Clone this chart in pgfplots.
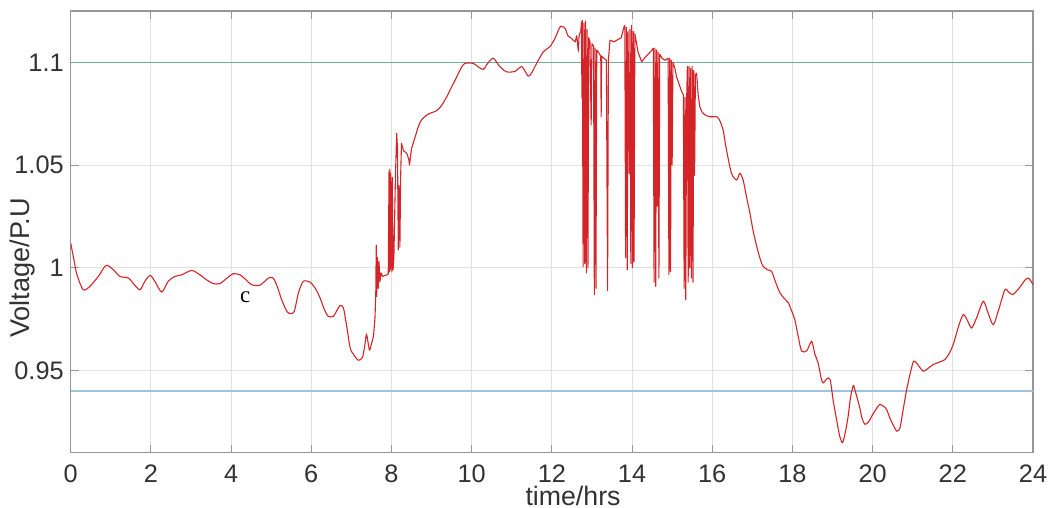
\documentclass[border=0pt]{standalone}
\usepackage{fontspec}
\setmainfont{Liberation Sans}
\newfontfamily\seriffont{Liberation Serif}
\usepackage{pgfplots}
\usepackage{pgfplotstable}
\pgfplotsset{compat=1.18}
\definecolor{voltred}{RGB}{212,36,40}
\definecolor{upperlim}{RGB}{112,172,166}
\definecolor{lowerlim}{RGB}{158,196,220}
\definecolor{gridgray}{RGB}{226,226,226}
\definecolor{framegray}{RGB}{150,150,150}
\definecolor{labelgray}{RGB}{50,50,50}

% night-time section, 0-7.6 h
\pgfplotstableread{
t v
0 1.012
0.08 1.004
0.15 0.997
0.31 0.9893
0.48 0.991
0.69 0.9958
0.88 1.0012
1.06 0.9991
1.23 0.9958
1.44 0.995
1.6 0.9915
1.73 0.9893
1.85 0.9934
1.98 0.9963
2.10 0.9934
2.27 0.9882
2.43 0.9934
2.60 0.9958
2.77 0.9966
3.02 0.9987
3.22 0.9966
3.40 0.994
3.56 0.9923
3.72 0.9923
3.90 0.995
4.05 0.9971
4.22 0.9966
4.38 0.994
4.51 0.9918
4.72 0.9915
4.93 0.995
5.05 0.995
5.15 0.991
5.26 0.9845
5.40 0.9785
5.50 0.9777
5.58 0.979
5.68 0.9878
5.80 0.9934
5.97 0.993
6.10 0.990
6.22 0.9853
6.32 0.980
6.42 0.9764
6.55 0.9764
6.66 0.980
6.72 0.9816
6.80 0.9806
6.88 0.972
6.97 0.961
7.05 0.958
7.17 0.955
7.28 0.9565
7.34 0.963
7.38 0.9675
7.45 0.960
7.50 0.963
7.55 0.9667
7.59 0.976
}\nightA

% morning switching, 7.6-8.5 h
\pgfplotstableread{
t v
7.59 0.976
7.61 0.989
7.62 1.011
7.63 0.986
7.65 1.005
7.67 0.990
7.69 1.003
7.71 0.993
7.74 0.9975
7.78 0.9958
7.83 0.9962
7.88 0.9965
7.92 0.997
7.94 1.047
7.95 0.998
7.96 1.048
7.97 0.999
7.98 1.046
7.99 1.000
8.00 1.040
8.01 0.998
8.02 1.044
8.04 0.999
8.06 1.005
8.10 1.045
8.13 1.0655
8.15 1.058
8.17 1.0088
8.19 1.040
8.21 1.010
8.23 1.045
8.25 1.0606
8.30 1.057
8.38 1.0558
8.43 1.053
8.45 1.050
8.50 1.058
}\morningB

% daytime rise, 8.5-12.72 h
\pgfplotstableread{
t v
8.50 1.058
8.58 1.063
8.67 1.0687
8.75 1.072
8.88 1.0744
9.00 1.0755
9.13 1.0765
9.25 1.079
9.38 1.0833
9.50 1.088
9.63 1.093
9.73 1.097
9.83 1.0995
10.04 1.0995
10.15 1.098
10.29 1.0966
10.40 1.0995
10.54 1.102
10.70 1.098
10.87 1.0954
11.08 1.0956
11.25 1.0979
11.41 1.0933
11.50 1.095
11.62 1.0995
11.79 1.1052
11.95 1.1076
12.08 1.1117
12.15 1.115
12.22 1.1176
12.33 1.1165
12.40 1.113
12.49 1.1117
12.58 1.110
12.62 1.1128
12.66 1.106
12.68 1.113
12.72 1.1149
}\dayC

% midday switching, 12.72-15.74 h
\pgfplotstableread{
t v
12.72 1.1149
12.74 1.1197
12.75 1.0826
12.76 1.1205
12.78 1.0005
12.80 1.119
12.82 1.002
12.84 1.120
12.86 0.9975
12.88 1.116
12.90 1.000
12.92 1.112
12.95 1.110
12.98 1.0695
13.00 1.109
13.04 1.108
13.06 0.987
13.08 1.107
13.10 0.990
13.12 1.106
13.16 1.105
13.22 1.103
13.23 1.0736
13.24 1.103
13.30 1.102
13.36 1.101
13.39 0.989
13.41 1.101
13.45 1.1108
13.55 1.110
13.62 1.1108
13.73 1.112
13.80 1.1173
13.82 1.118
13.84 1.005
13.86 1.117
13.88 0.999
13.90 1.115
13.93 1.046
13.95 1.116
13.97 1.002
13.99 1.118
14.01 1.000
14.03 1.115
14.05 1.003
14.07 1.114
14.15 1.105
14.24 1.1003
14.31 1.102
14.45 1.105
14.53 1.1068
14.55 0.993
14.57 1.107
14.59 0.991
14.61 1.106
14.63 1.030
14.65 1.105
14.67 0.995
14.69 1.104
14.75 1.102
14.82 1.101
14.90 1.102
14.92 0.9967
14.94 1.102
14.96 0.998
14.98 1.101
15.00 1.050
15.02 1.100
15.07 1.097
15.11 1.093
15.18 1.089
15.24 1.0857
15.28 1.084
15.30 0.990
15.32 1.083
15.34 0.9845
15.36 1.080
15.38 1.098
15.40 0.993
15.42 1.098
15.44 1.000
15.46 1.097
15.48 0.995
15.50 1.098
15.52 0.993
15.54 1.096
15.56 1.045
15.58 1.094
15.61 1.0947
15.65 1.084
15.69 1.0784
15.74 1.076
}\middayD

% evening and night, 15.74-24 h
\pgfplotstableread{
t v
15.74 1.076
15.82 1.0744
15.95 1.0735
16.07 1.0736
16.11 1.0736
16.18 1.072
16.27 1.0671
16.35 1.058
16.48 1.046
16.61 1.0428
16.69 1.046
16.77 1.0428
16.85 1.035
16.94 1.0266
17.02 1.018
17.11 1.0104
17.20 1.004
17.27 1.0007
17.38 0.999
17.48 0.9983
17.58 0.993
17.69 0.9878
17.80 0.985
17.90 0.9829
17.98 0.979
18.06 0.9748
18.15 0.966
18.23 0.9594
18.36 0.9597
18.48 0.9642
18.56 0.958
18.64 0.9537
18.72 0.946
18.77 0.944
18.86 0.946
18.94 0.9456
19.02 0.935
19.10 0.9262
19.18 0.918
19.25 0.9149
19.32 0.920
19.39 0.9278
19.45 0.937
19.52 0.9427
19.58 0.939
19.67 0.9327
19.74 0.9265
19.81 0.9238
19.90 0.925
19.98 0.9278
20.08 0.931
20.18 0.9335
20.28 0.9325
20.35 0.931
20.45 0.926
20.60 0.9205
20.68 0.922
20.72 0.926
20.78 0.933
20.85 0.9408
20.93 0.948
21.02 0.9545
21.10 0.9535
21.26 0.9497
21.38 0.951
21.51 0.9529
21.65 0.954
21.80 0.9553
21.90 0.958
22.01 0.9626
22.15 0.972
22.26 0.9772
22.35 0.975
22.47 0.9707
22.60 0.976
22.76 0.9837
22.88 0.978
23.01 0.9723
23.15 0.980
23.30 0.9894
23.40 0.988
23.50 0.987
23.65 0.990
23.80 0.9940
23.88 0.995
23.95 0.9935
24.00 0.9918
}\eveningE

\begin{document}
\begin{tikzpicture}
\path[use as bounding box] (-35.35bp,-27.65bp) rectangle (491.15bp,226.35bp);
\begin{axis}[
  at={(0,0)}, anchor=south west,
  scale only axis, width=481.15bp, height=220.85bp,
  xmin=0, xmax=24, ymin=0.91, ymax=1.125,
  xtick={0,2,...,24}, ytick={0.95,1,1.05,1.1},
  tick pos=both, tick align=inside, major tick length=4bp,
  grid=major, major grid style={gridgray, line width=0.4bp},
  axis line style={framegray, line width=0.6bp},
  tick style={framegray, line width=0.5bp},
  ticklabel style={font=\fontsize{12.7}{14}\selectfont, text=labelgray},
  /pgf/number format/assume math mode=true,
  xticklabel style={yshift=-2.5bp},
  xlabel={time/hrs},
  xlabel style={at={(axis description cs:0.522,-0.0985)}, anchor=center,
    inner sep=0pt, font=\fontsize{13.4}{15}\selectfont, text=labelgray},
  ylabel={Voltage/P.U},
  ylabel style={at={(axis description cs:-0.0506,0.418)}, anchor=center,
    font=\fontsize{13.6}{15}\selectfont, text=labelgray},
  smoothpart/.style={voltred, line width=0.55bp, smooth, tension=0.45},
  sharppart/.style={voltred, line width=0.55bp, line join=round},
]
% voltage limits
\addplot[upperlim, line width=0.6bp] coordinates {(0,1.1) (24,1.1)};
\addplot[lowerlim, line width=0.6bp] coordinates {(0,0.94) (24,0.94)};
% bus voltage over the day
\addplot[smoothpart] table {\nightA};
\addplot[sharppart] table {\morningB};
\addplot[smoothpart] table {\dayC};
\addplot[sharppart] table {\middayD};
\addplot[smoothpart] table {\eveningE};
\node[font=\seriffont\fontsize{11.5}{13}\selectfont, text=black] at (axis cs:4.35,0.9856) {c};
\end{axis}
\end{tikzpicture}
\end{document}
